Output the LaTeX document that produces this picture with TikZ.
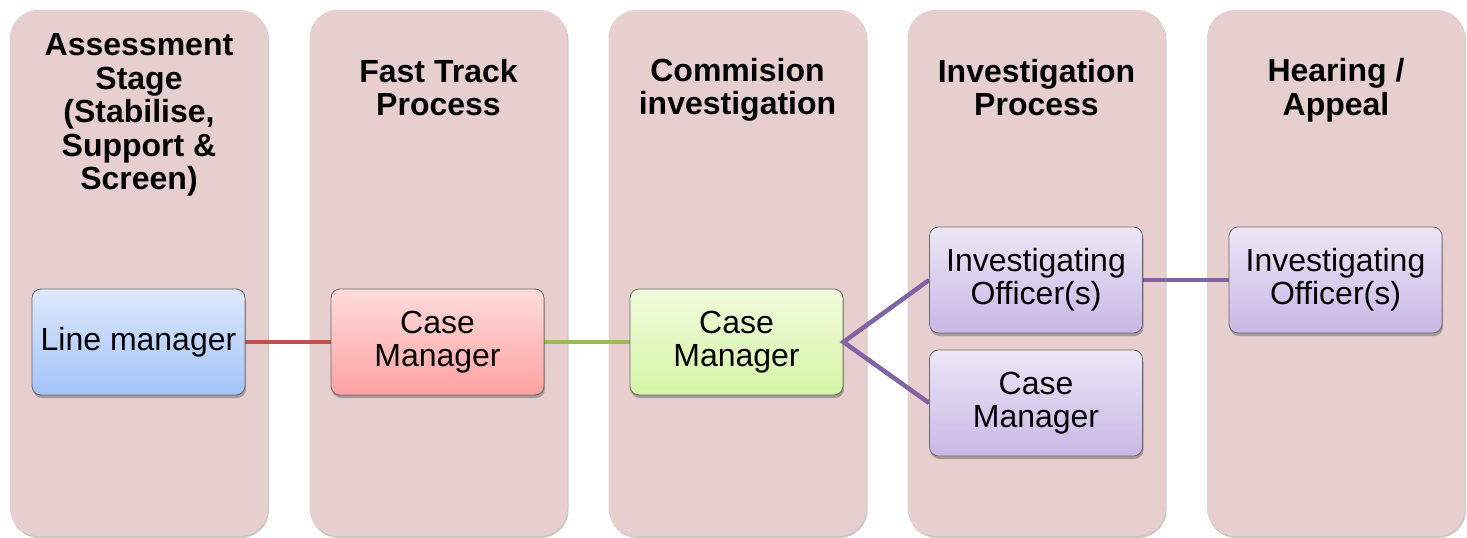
\documentclass[tikz,border=0pt]{standalone}
\usepackage{fontspec}
\setmainfont{Liberation Sans}
\usetikzlibrary{shadows}
\definecolor{laneC}{RGB}{231,207,208}
\definecolor{boxline}{RGB}{105,105,105}
\definecolor{blueT}{RGB}{221,232,251}
\definecolor{blueB}{RGB}{163,195,248}
\definecolor{redT}{RGB}{255,219,219}
\definecolor{redB}{RGB}{255,162,162}
\definecolor{greenT}{RGB}{241,251,222}
\definecolor{greenB}{RGB}{213,245,166}
\definecolor{purpT}{RGB}{236,231,247}
\definecolor{purpB}{RGB}{200,183,229}
\definecolor{redL}{RGB}{192,80,77}
\definecolor{greenL}{RGB}{155,187,89}
\definecolor{purpL}{RGB}{128,100,162}
\begin{document}
\begin{tikzpicture}[x=1pt,y=-1pt,
  lane/.style={fill=laneC, rounded corners=28pt, minimum width=258pt,
    minimum height=526pt, inner sep=0pt,
    drop shadow={shadow xshift=1pt, shadow yshift=-2pt, opacity=0.3, fill=black!70}},
  head/.style={align=center, font=\fontsize{32}{33.5}\selectfont\bfseries, inner sep=0pt},
  role/.style={draw=boxline, line width=0.8pt, rounded corners=9pt,
    minimum width=213pt, minimum height=106pt, inner sep=0pt, align=center,
    font=\fontsize{32}{33}\selectfont,
    drop shadow={shadow xshift=1pt, shadow yshift=-3pt, opacity=0.35, fill=black!80}},
  blue box/.style={role, top color=blueT, bottom color=blueB},
  red box/.style={role, top color=redT, bottom color=redB},
  green box/.style={role, top color=greenT, bottom color=greenB},
  purple box/.style={role, top color=purpT, bottom color=purpB},
  link/.style={line width=4.5pt}
]
\useasboundingbox (0,0) rectangle (1467,538);

% swim lanes
\node[lane] (lane1) at (139,273) {};
\node[lane] (lane2) at (438.5,273) {};
\node[lane] (lane3) at (737.5,273) {};
\node[lane] (lane4) at (1036.5,273) {};
\node[lane] (lane5) at (1336,273) {};

% lane headings
\node[head] (h1) at (139,115) {Assessment\\Stage\\(Stabilise,\\Support \&\\Screen)};
\node[head] (h2) at (438.5,87.5) {Fast Track\\Process};
\node[head] (h3) at (737.5,90) {Commision\\investigation};
\node[head] (h4) at (1036.5,87.5) {Investigation\\Process};
\node[head] (h5) at (1336,90) {Hearing /\\Appeal};

% connectors
\draw[link, redL] (138.5,342) coordinate (lmc) -- (437.5,342) coordinate (cm1c);
\draw[link, greenL] (cm1c) -- (736.5,342) coordinate (cm2c);
\draw[link, purpL] (1036,280) coordinate (io1c) -- (1335.5,280) coordinate (io2c);

% role boxes
\node[blue box] (lm) at (lmc) {Line manager};
\node[red box] (cm1) at (cm1c) {Case\\Manager};
\node[green box] (cm2) at (cm2c) {Case\\Manager};
\node[purple box] (io1) at (io1c) {Investigating\\Officer(s)};
\node[purple box] (cm3) at (1036,403) {Case\\Manager};
\node[purple box] (io2) at (io2c) {Investigating\\Officer(s)};

\draw[link, purpL, line join=miter] (io1.west) -- (cm2.east) -- (cm3.west);
\end{tikzpicture}
\end{document}
